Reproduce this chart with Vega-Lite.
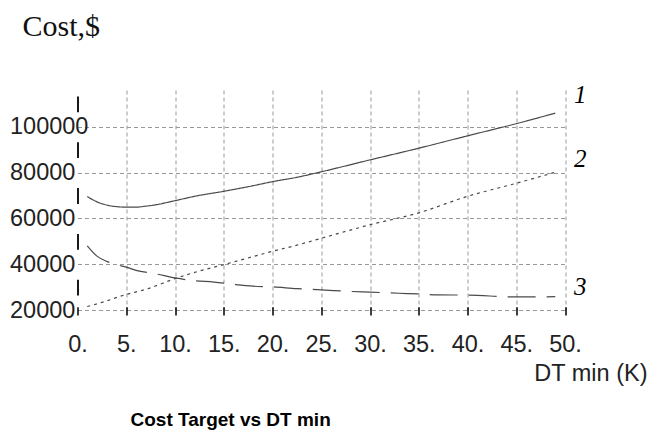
{
  "$schema": "https://vega.github.io/schema/vega-lite/v6.json",
  "autosize": "none",
  "padding": {"left": 77.5, "top": 90, "right": 83, "bottom": 122},
  "width": 487.5,
  "height": 220,
  "background": "white",
  "config": {"view": {"stroke": null}},
  "title": {
    "text": "Cost Target vs DT min",
    "orient": "bottom",
    "anchor": "start",
    "frame": "group",
    "font": "Liberation Sans",
    "fontSize": 19,
    "fontWeight": "bold",
    "color": "black",
    "baseline": "top",
    "offset": 26,
    "dx": 53
  },
  "datasets": {
    "curves": [
      {"dt": 1, "cost": 69500, "series": "1"},
      {"dt": 2, "cost": 67200, "series": "1"},
      {"dt": 3, "cost": 65800, "series": "1"},
      {"dt": 4, "cost": 65100, "series": "1"},
      {"dt": 5, "cost": 64900, "series": "1"},
      {"dt": 6, "cost": 64900, "series": "1"},
      {"dt": 7, "cost": 65300, "series": "1"},
      {"dt": 8, "cost": 65900, "series": "1"},
      {"dt": 10, "cost": 67700, "series": "1"},
      {"dt": 12, "cost": 69600, "series": "1"},
      {"dt": 15, "cost": 71800, "series": "1"},
      {"dt": 17.5, "cost": 73800, "series": "1"},
      {"dt": 20, "cost": 76000, "series": "1"},
      {"dt": 22.5, "cost": 77900, "series": "1"},
      {"dt": 25, "cost": 80300, "series": "1"},
      {"dt": 30, "cost": 85500, "series": "1"},
      {"dt": 35, "cost": 90600, "series": "1"},
      {"dt": 40, "cost": 96000, "series": "1"},
      {"dt": 45, "cost": 101300, "series": "1"},
      {"dt": 49, "cost": 105900, "series": "1"},

      {"dt": 1, "cost": 21500, "series": "2"},
      {"dt": 2.5, "cost": 23300, "series": "2"},
      {"dt": 5, "cost": 26800, "series": "2"},
      {"dt": 7, "cost": 29000, "series": "2"},
      {"dt": 10, "cost": 33700, "series": "2"},
      {"dt": 12.5, "cost": 37000, "series": "2"},
      {"dt": 15, "cost": 39800, "series": "2"},
      {"dt": 20, "cost": 45600, "series": "2"},
      {"dt": 22.5, "cost": 48300, "series": "2"},
      {"dt": 25, "cost": 51300, "series": "2"},
      {"dt": 30, "cost": 57200, "series": "2"},
      {"dt": 35, "cost": 62400, "series": "2"},
      {"dt": 40, "cost": 69600, "series": "2"},
      {"dt": 45, "cost": 75300, "series": "2"},
      {"dt": 49, "cost": 80100, "series": "2"},

      {"dt": 1, "cost": 48000, "series": "3"},
      {"dt": 2, "cost": 43500, "series": "3"},
      {"dt": 3, "cost": 41200, "series": "3"},
      {"dt": 4, "cost": 39800, "series": "3"},
      {"dt": 5, "cost": 38700, "series": "3"},
      {"dt": 6, "cost": 37300, "series": "3"},
      {"dt": 8, "cost": 35800, "series": "3"},
      {"dt": 10, "cost": 34000, "series": "3"},
      {"dt": 12, "cost": 32800, "series": "3"},
      {"dt": 14, "cost": 32200, "series": "3"},
      {"dt": 16, "cost": 31200, "series": "3"},
      {"dt": 18, "cost": 30400, "series": "3"},
      {"dt": 20, "cost": 30100, "series": "3"},
      {"dt": 22.5, "cost": 29300, "series": "3"},
      {"dt": 25, "cost": 28800, "series": "3"},
      {"dt": 28, "cost": 28100, "series": "3"},
      {"dt": 30, "cost": 27800, "series": "3"},
      {"dt": 33, "cost": 27300, "series": "3"},
      {"dt": 35, "cost": 27000, "series": "3"},
      {"dt": 37, "cost": 26600, "series": "3"},
      {"dt": 40, "cost": 26500, "series": "3"},
      {"dt": 45, "cost": 25700, "series": "3"},
      {"dt": 49, "cost": 25800, "series": "3"}
    ],
    "curveNames": [
      {"dt": 50, "cost": 113900, "name": "1"},
      {"dt": 50, "cost": 85900, "name": "2"},
      {"dt": 50, "cost": 30000, "name": "3"}
    ]
  },
  "layer": [
    {
      "data": {"name": "curves"},
      "mark": {"type": "line", "strokeWidth": 1.2, "color": "#4a4a4a", "interpolate": "monotone"},
      "encoding": {
        "x": {
          "field": "dt",
          "type": "quantitative",
          "scale": {"domain": [0, 50], "nice": false, "zero": false},
          "axis": {
            "values": [0, 5, 10, 15, 20, 25, 30, 35, 40, 45, 50],
            "labelExpr": "datum.value + '.'",
            "domain": false,
            "offset": -3.3,
            "ticks": true,
            "tickSize": 8.3,
            "tickColor": "black",
            "tickWidth": 1.5,
            "grid": true,
            "gridColor": "#999",
            "gridDash": [4, 3],
            "gridWidth": 1,
            "gridOpacity": {"condition": {"test": "datum.value == 0", "value": 0}, "value": 1},
            "labelFont": "Liberation Sans",
            "labelFontSize": 23.5,
            "labelColor": "#222",
            "labelBaseline": "top",
            "labelPadding": 17,
            "labelFlush": false,
            "labelOverlap": false,
            "title": "DT min (K)",
            "titleFont": "Liberation Sans",
            "titleFontSize": 23.5,
            "titleFontWeight": "normal",
            "titleColor": "#222",
            "titleAlign": "right",
            "titleAnchor": null,
            "titleBaseline": "alphabetic",
            "titleX": 569.5,
            "titleY": 73.3
          }
        },
        "y": {
          "field": "cost",
          "type": "quantitative",
          "scale": {"domain": [20000, 116000], "nice": false, "zero": false},
          "axis": {
            "values": [20000, 40000, 60000, 80000, 100000],
            "format": "d",
            "domain": true,
            "domainColor": "black",
            "domainWidth": 1.8,
            "domainDash": [15.8, 30],
            "domainDashOffset": 30.8,
            "ticks": false,
            "tickSize": 0,
            "grid": true,
            "gridColor": "#999",
            "gridDash": [4, 3],
            "gridWidth": 1,
            "labelFont": "Liberation Sans",
            "labelFontSize": 23.5,
            "labelColor": "#222",
            "labelAlign": "left",
            "labelBaseline": "middle",
            "labelPadding": 68,
            "labelOverlap": false,
            "labelFlush": false,
            "title": "Cost,$",
            "titleFont": "Liberation Serif",
            "titleFontSize": 30,
            "titleFontWeight": "normal",
            "titleColor": "#111",
            "titleAngle": 0,
            "titleAlign": "left",
            "titleAnchor": null,
            "titleBaseline": "alphabetic",
            "titleX": -55.5,
            "titleY": -55
          }
        },
        "strokeDash": {
          "field": "series",
          "type": "nominal",
          "scale": {"domain": ["1", "2", "3"], "range": [[1, 0], [3, 4], [28, 11]]},
          "legend": null
        }
      }
    },
    {
      "mark": {"type": "rule", "color": "black", "strokeWidth": 1.6},
      "encoding": {"y": {"datum": 20000}}
    },
    {
      "data": {"name": "curveNames"},
      "mark": {
        "type": "text",
        "font": "Liberation Serif",
        "fontStyle": "italic",
        "fontSize": 25,
        "align": "left",
        "baseline": "middle",
        "dx": 9,
        "color": "black",
        "clip": false
      },
      "encoding": {
        "x": {"field": "dt", "type": "quantitative"},
        "y": {"field": "cost", "type": "quantitative"},
        "text": {"field": "name"}
      }
    }
  ]
}
